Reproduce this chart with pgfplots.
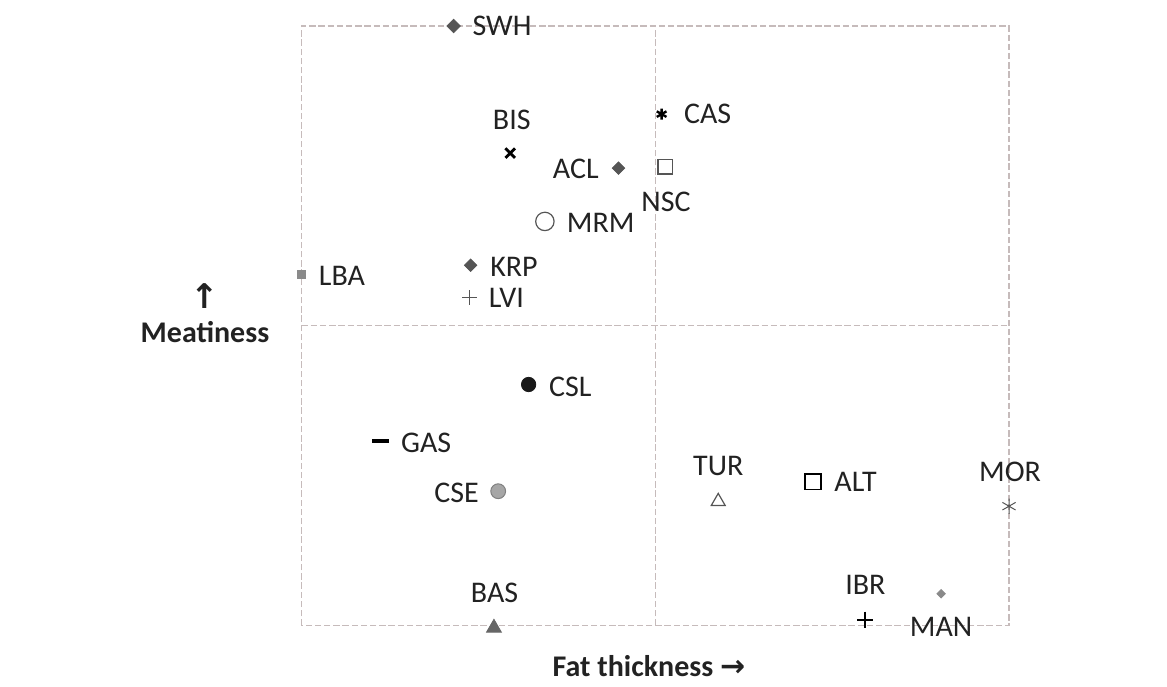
\documentclass[border=0pt]{standalone}
\usepackage{fontspec}
\setmainfont{Carlito}
\newfontfamily\arrowfont{DejaVu Sans}
\usepackage{pgfplots}
\pgfplotsset{compat=1.18}
\definecolor{gridc}{HTML}{C6BBBB}
\definecolor{txt}{HTML}{222222}
\definecolor{dgray}{HTML}{555555}
\definecolor{mgray}{HTML}{8A8A8A}
\newcommand{\lblfont}{\fontsize{15}{18}\selectfont}
\pgfplotsset{
  lab/.style n args={3}{
    nodes near coords={#3},
    every node near coord/.append style={anchor=center, xshift=#1, yshift=#2, font=\lblfont, text=txt, inner sep=0pt}
  }
}
\begin{document}
\begin{tikzpicture}
\useasboundingbox (0,0) rectangle (583.5pt,343pt);
\begin{axis}[at={(150.75pt,30.25pt)}, anchor=south west, scale only axis,
  width=353.75pt, height=299.75pt, xmin=0, xmax=10, ymin=0, ymax=10,
  hide axis, clip=false]
\draw[gridc, line width=0.6pt, dash pattern=on 3.2pt off 1.4pt] (axis cs:0,0) rectangle (axis cs:10,10);
\draw[gridc, line width=0.6pt, dash pattern=on 3.2pt off 1.4pt] (axis cs:5,0) -- (axis cs:5,10);
\draw[gridc, line width=0.6pt, dash pattern=on 3.2pt off 1.4pt] (axis cs:0,5) -- (axis cs:10,5);
% SWH
\addplot[only marks, mark=square*, mark size=2.4pt, mark options={rotate=45, fill=dgray, draw=dgray}, lab={24.2pt}{0.3pt}{SWH}] coordinates {(2.15,10.0)};
% BIS
\addplot[only marks, mark=x, mark size=3.4pt, mark options={line width=1.4pt, draw=black}, lab={0.8pt}{16.7pt}{BIS}] coordinates {(2.95,7.88)};
% ACL
\addplot[only marks, mark=square*, mark size=2.2pt, mark options={rotate=45, fill=dgray, draw=dgray}, lab={-21.3pt}{-0.6pt}{ACL}] coordinates {(4.48,7.63)};
% NSC
\addplot[only marks, mark=square, mark size=3.6pt, mark options={line width=0.7pt, draw=dgray}, lab={0.4pt}{-17.5pt}{NSC}] coordinates {(5.14,7.65)};
% CAS
\addplot[only marks, mark=asterisk, mark size=2.8pt, mark options={line width=1.2pt, draw=black}, lab={23pt}{0pt}{CAS}] coordinates {(5.09,8.53)};
% MRM
\addplot[only marks, mark=o, mark size=4.6pt, mark options={line width=0.6pt, draw=dgray}, lab={27.9pt}{-0.7pt}{MRM}] coordinates {(3.44,6.74)};
% KRP
\addplot[only marks, mark=square*, mark size=2.2pt, mark options={rotate=45, fill=dgray, draw=dgray}, lab={21.7pt}{-0.7pt}{KRP}] coordinates {(2.39,6.01)};
% LVI
\addplot[only marks, mark=+, mark size=3.7pt, mark options={line width=0.6pt, draw=dgray}, lab={18.3pt}{0pt}{LVI}] coordinates {(2.38,5.47)};
% LBA
\addplot[only marks, mark=square*, mark size=2.0pt, mark options={fill=mgray, draw=mgray}, lab={20.2pt}{-0.5pt}{LBA}] coordinates {(0.0,5.85)};
% CSL
\addplot[only marks, mark=*, mark size=3.6pt, mark options={fill=black!90, draw=black!90}, lab={20.8pt}{-1.2pt}{CSL}] coordinates {(3.21,4.02)};
% GAS
\addplot[only marks, mark=-, mark size=4.2pt, mark options={line width=2pt, draw=black}, lab={22.7pt}{-0.7pt}{GAS}] coordinates {(1.12,3.07)};
% CSE
\addplot[only marks, mark=*, mark size=3.7pt, mark options={fill=black!35, draw=black!50, line width=0.5pt}, lab={-20.8pt}{-0.7pt}{CSE}] coordinates {(2.78,2.24)};
% BAS
\addplot[only marks, mark=triangle*, mark size=4.3pt, mark options={fill=black!60, draw=black!60}, lab={0.3pt}{17.3pt}{BAS}] coordinates {(2.72,-0.04)};
% TUR
\addplot[only marks, mark=triangle, mark size=4.0pt, mark options={line width=0.6pt, draw=dgray}, lab={0pt}{17.7pt}{TUR}] coordinates {(5.89,2.07)};
% ALT
\addplot[only marks, mark=square, mark size=3.9pt, mark options={line width=0.9pt, draw=black}, lab={21.3pt}{0pt}{ALT}] coordinates {(7.23,2.40)};
% MOR
\addplot[only marks, mark=asterisk, mark size=3.8pt, mark options={line width=0.5pt, draw=dgray}, lab={0.5pt}{17.2pt}{MOR}] coordinates {(10.0,1.99)};
% IBR
\addplot[only marks, mark=+, mark size=4.0pt, mark options={line width=1.0pt, draw=black}, lab={0pt}{17.2pt}{IBR}] coordinates {(7.97,0.10)};
% MAN
\addplot[only marks, mark=square*, mark size=1.5pt, mark options={rotate=45, fill=mgray, draw=mgray}, lab={0pt}{-16.5pt}{MAN}] coordinates {(9.04,0.53)};
\end{axis}
\node[anchor=center, text=txt, inner sep=0pt] at (102.5pt,195pt) {\arrowfont\bfseries\fontsize{17}{18}\selectfont ↑};
\node[anchor=base, text=txt, font=\bfseries\lblfont, inner sep=0pt] at (102.5pt,171.6pt) {Meatiness};
\node[anchor=base, text=txt, font=\bfseries\lblfont, inner sep=0pt] at (324.5pt,5pt) {Fat thickness {\arrowfont\bfseries →}};
\end{tikzpicture}
\end{document}
